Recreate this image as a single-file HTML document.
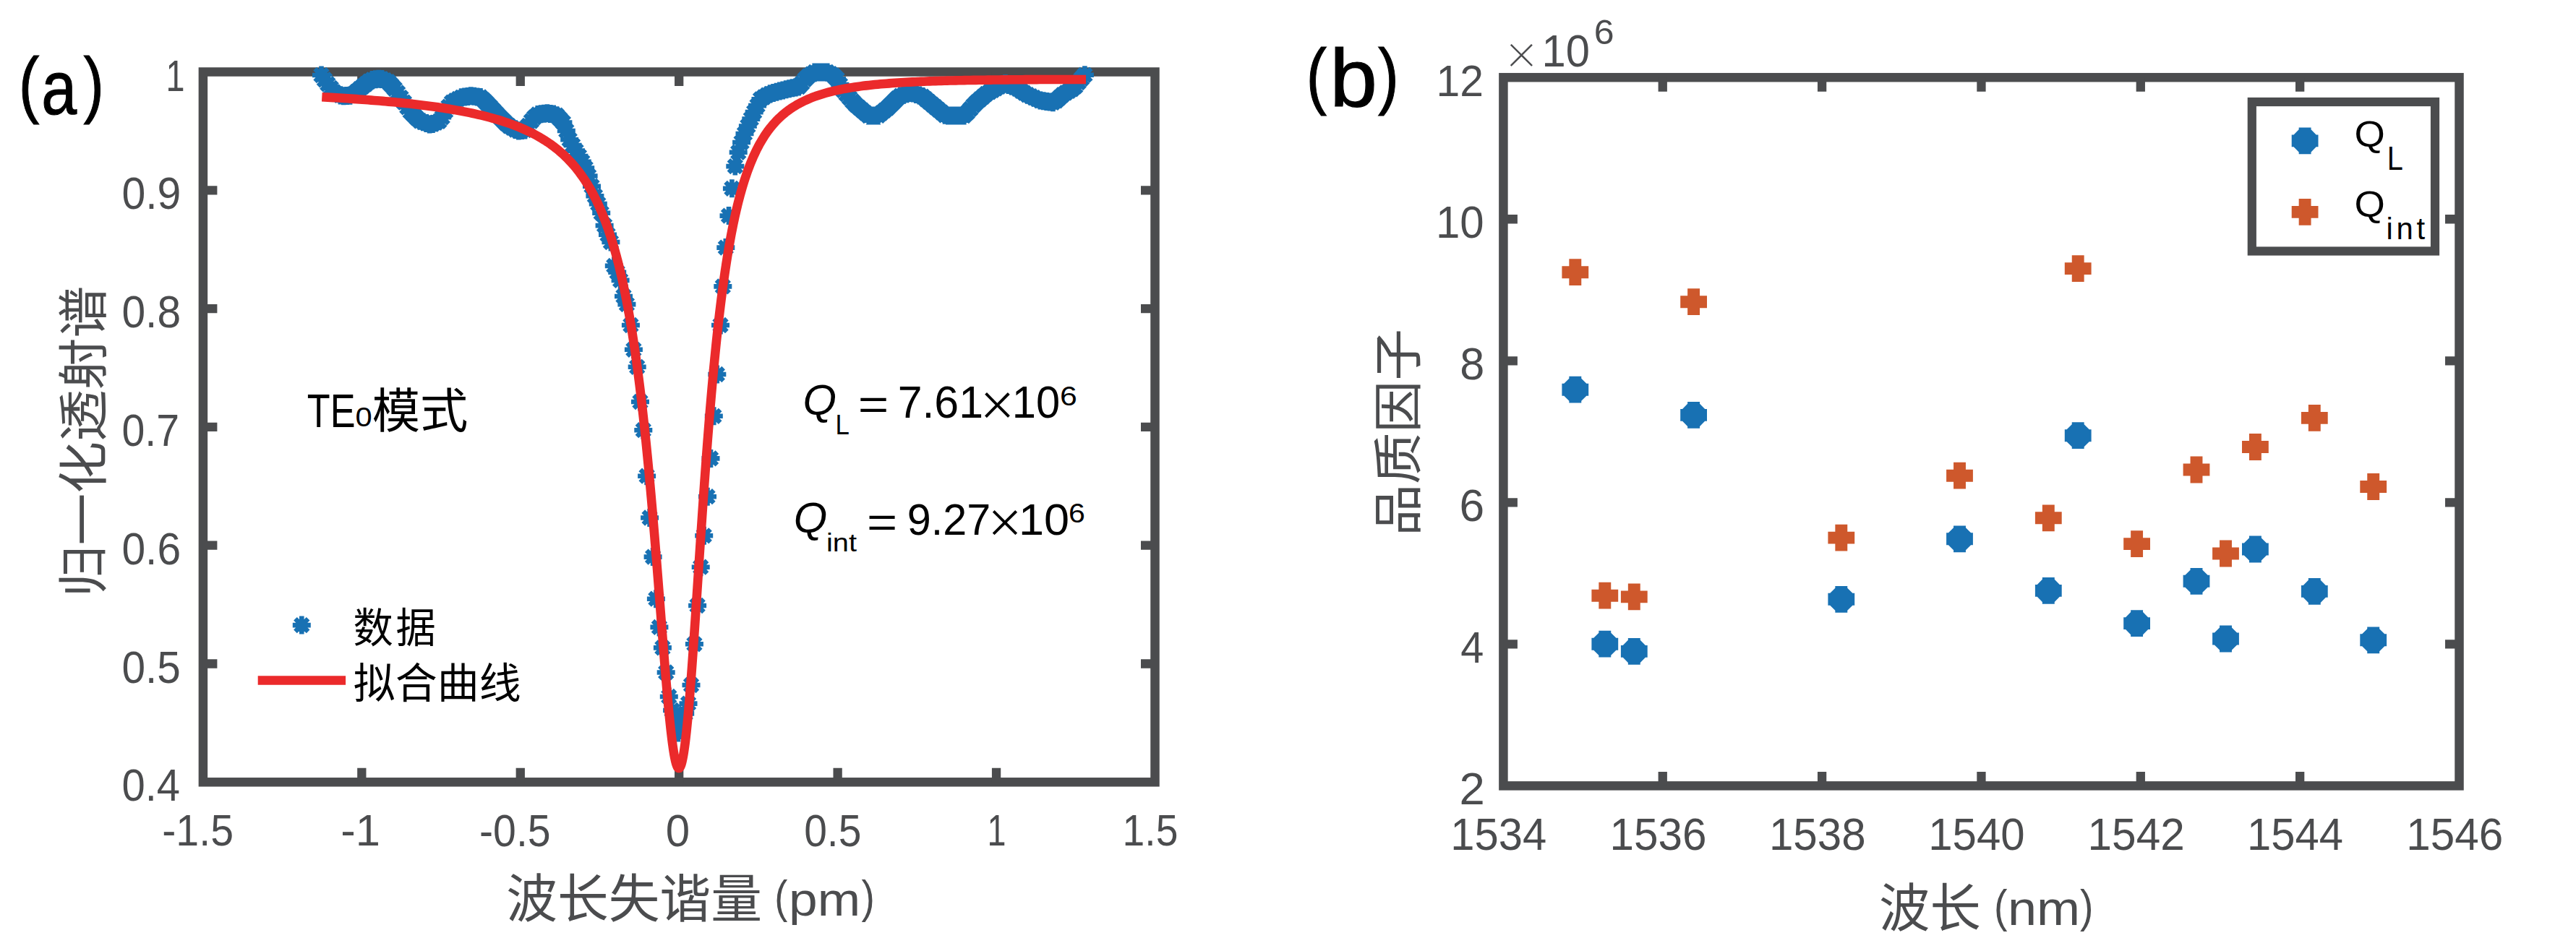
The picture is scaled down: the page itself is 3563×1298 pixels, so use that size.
<!DOCTYPE html>
<html lang="zh"><head><meta charset="utf-8"><title>figure</title>
<style>html,body{margin:0;padding:0;background:#fff}svg{display:block;font-family:'Liberation Sans', 'Noto Sans CJK SC', sans-serif}</style></head>
<body><svg width="3563" height="1298" viewBox="0 0 3563 1298">
<rect width="3563" height="1298" fill="#fff"/>
<g stroke="#4b4c4e" stroke-width="12.5" fill="none">
<rect x="280.9" y="99.5" width="1316.6" height="982.8"/>
<path d="M500.33 1082.3v-19.5M500.33 99.5v19.5M719.77 1082.3v-19.5M719.77 99.5v19.5M939.2 1082.3v-19.5M939.2 99.5v19.5M1158.63 1082.3v-19.5M1158.63 99.5v19.5M1378.07 1082.3v-19.5M1378.07 99.5v19.5M280.9 263.3h19.5M1597.5 263.3h-19.5M280.9 427.1h19.5M1597.5 427.1h-19.5M280.9 590.9h19.5M1597.5 590.9h-19.5M280.9 754.7h19.5M1597.5 754.7h-19.5M280.9 918.5h19.5M1597.5 918.5h-19.5" stroke-width="12.3"/>
</g>
<path d="M432 104h25m-12.5-12.5v25m8.84-3.66l-17.68-17.68m0 17.68l17.68-17.68M436.4 110.22h25m-12.5-12.5v25m8.84-3.66l-17.68-17.68m0 17.68l17.68-17.68M440.8 116.24h25m-12.5-12.5v25m8.84-3.66l-17.68-17.68m0 17.68l17.68-17.68M445.2 121.81h25m-12.5-12.5v25m8.84-3.66l-17.68-17.68m0 17.68l17.68-17.68M449.6 127.37h25m-12.5-12.5v25m8.84-3.66l-17.68-17.68m0 17.68l17.68-17.68M454 129.82h25m-12.5-12.5v25m8.84-3.66l-17.68-17.68m0 17.68l17.68-17.68M458.4 131.88h25m-12.5-12.5v25m8.84-3.66l-17.68-17.68m0 17.68l17.68-17.68M462.8 132.85h25m-12.5-12.5v25m8.84-3.66l-17.68-17.68m0 17.68l17.68-17.68M467.2 132.52h25m-12.5-12.5v25m8.84-3.66l-17.68-17.68m0 17.68l17.68-17.68M471.6 132.19h25m-12.5-12.5v25m8.84-3.66l-17.68-17.68m0 17.68l17.68-17.68M476 130.44h25m-12.5-12.5v25m8.84-3.66l-17.68-17.68m0 17.68l17.68-17.68M480.4 126.83h25m-12.5-12.5v25m8.84-3.66l-17.68-17.68m0 17.68l17.68-17.68M484.8 123.22h25m-12.5-12.5v25m8.84-3.66l-17.68-17.68m0 17.68l17.68-17.68M489.2 119.67h25m-12.5-12.5v25m8.84-3.66l-17.68-17.68m0 17.68l17.68-17.68M493.6 116.23h25m-12.5-12.5v25m8.84-3.66l-17.68-17.68m0 17.68l17.68-17.68M498 112.79h25m-12.5-12.5v25m8.84-3.66l-17.68-17.68m0 17.68l17.68-17.68M502.4 110.38h25m-12.5-12.5v25m8.84-3.66l-17.68-17.68m0 17.68l17.68-17.68M506.8 109.79h25m-12.5-12.5v25m8.84-3.66l-17.68-17.68m0 17.68l17.68-17.68M511.2 109.19h25m-12.5-12.5v25m8.84-3.66l-17.68-17.68m0 17.68l17.68-17.68M515.6 109.43h25m-12.5-12.5v25m8.84-3.66l-17.68-17.68m0 17.68l17.68-17.68M520 111.28h25m-12.5-12.5v25m8.84-3.66l-17.68-17.68m0 17.68l17.68-17.68M524.4 113.13h25m-12.5-12.5v25m8.84-3.66l-17.68-17.68m0 17.68l17.68-17.68M528.8 117.79h25m-12.5-12.5v25m8.84-3.66l-17.68-17.68m0 17.68l17.68-17.68M533.2 122.72h25m-12.5-12.5v25m8.84-3.66l-17.68-17.68m0 17.68l17.68-17.68M537.6 128.45h25m-12.5-12.5v25m8.84-3.66l-17.68-17.68m0 17.68l17.68-17.68M542 135.05h25m-12.5-12.5v25m8.84-3.66l-17.68-17.68m0 17.68l17.68-17.68M546.4 141.68h25m-12.5-12.5v25m8.84-3.66l-17.68-17.68m0 17.68l17.68-17.68M550.8 148.32h25m-12.5-12.5v25m8.84-3.66l-17.68-17.68m0 17.68l17.68-17.68M555.2 154.42h25m-12.5-12.5v25m8.84-3.66l-17.68-17.68m0 17.68l17.68-17.68M559.6 158.92h25m-12.5-12.5v25m8.84-3.66l-17.68-17.68m0 17.68l17.68-17.68M564 163.42h25m-12.5-12.5v25m8.84-3.66l-17.68-17.68m0 17.68l17.68-17.68M568.4 167.31h25m-12.5-12.5v25m8.84-3.66l-17.68-17.68m0 17.68l17.68-17.68M572.8 168.85h25m-12.5-12.5v25m8.84-3.66l-17.68-17.68m0 17.68l17.68-17.68M577.2 170.39h25m-12.5-12.5v25m8.84-3.66l-17.68-17.68m0 17.68l17.68-17.68M581.6 171.93h25m-12.5-12.5v25m8.84-3.66l-17.68-17.68m0 17.68l17.68-17.68M586 171.54h25m-12.5-12.5v25m8.84-3.66l-17.68-17.68m0 17.68l17.68-17.68M590.4 169.67h25m-12.5-12.5v25m8.84-3.66l-17.68-17.68m0 17.68l17.68-17.68M594.8 167.81h25m-12.5-12.5v25m8.84-3.66l-17.68-17.68m0 17.68l17.68-17.68M599.2 162.31h25m-12.5-12.5v25m8.84-3.66l-17.68-17.68m0 17.68l17.68-17.68M603.6 154.06h25m-12.5-12.5v25m8.84-3.66l-17.68-17.68m0 17.68l17.68-17.68M608 147.59h25m-12.5-12.5v25m8.84-3.66l-17.68-17.68m0 17.68l17.68-17.68M612.4 141.7h25m-12.5-12.5v25m8.84-3.66l-17.68-17.68m0 17.68l17.68-17.68M616.8 139.23h25m-12.5-12.5v25m8.84-3.66l-17.68-17.68m0 17.68l17.68-17.68M621.2 137.02h25m-12.5-12.5v25m8.84-3.66l-17.68-17.68m0 17.68l17.68-17.68M625.6 134.8h25m-12.5-12.5v25m8.84-3.66l-17.68-17.68m0 17.68l17.68-17.68M630 134.06h25m-12.5-12.5v25m8.84-3.66l-17.68-17.68m0 17.68l17.68-17.68M634.4 133.46h25m-12.5-12.5v25m8.84-3.66l-17.68-17.68m0 17.68l17.68-17.68M638.8 132.87h25m-12.5-12.5v25m8.84-3.66l-17.68-17.68m0 17.68l17.68-17.68M643.2 133.32h25m-12.5-12.5v25m8.84-3.66l-17.68-17.68m0 17.68l17.68-17.68M647.6 133.91h25m-12.5-12.5v25m8.84-3.66l-17.68-17.68m0 17.68l17.68-17.68M652 134.51h25m-12.5-12.5v25m8.84-3.66l-17.68-17.68m0 17.68l17.68-17.68M656.4 138.33h25m-12.5-12.5v25m8.84-3.66l-17.68-17.68m0 17.68l17.68-17.68M660.8 142.78h25m-12.5-12.5v25m8.84-3.66l-17.68-17.68m0 17.68l17.68-17.68M665.2 147.38h25m-12.5-12.5v25m8.84-3.66l-17.68-17.68m0 17.68l17.68-17.68M669.6 152.21h25m-12.5-12.5v25m8.84-3.66l-17.68-17.68m0 17.68l17.68-17.68M674 157.04h25m-12.5-12.5v25m8.84-3.66l-17.68-17.68m0 17.68l17.68-17.68M678.4 161.7h25m-12.5-12.5v25m8.84-3.66l-17.68-17.68m0 17.68l17.68-17.68M682.8 166.1h25m-12.5-12.5v25m8.84-3.66l-17.68-17.68m0 17.68l17.68-17.68M687.2 170.5h25m-12.5-12.5v25m8.84-3.66l-17.68-17.68m0 17.68l17.68-17.68M691.6 174.26h25m-12.5-12.5v25m8.84-3.66l-17.68-17.68m0 17.68l17.68-17.68M696 176.91h25m-12.5-12.5v25m8.84-3.66l-17.68-17.68m0 17.68l17.68-17.68M700.4 179.56h25m-12.5-12.5v25m8.84-3.66l-17.68-17.68m0 17.68l17.68-17.68M704.8 181.12h25m-12.5-12.5v25m8.84-3.66l-17.68-17.68m0 17.68l17.68-17.68M709.2 180.58h25m-12.5-12.5v25m8.84-3.66l-17.68-17.68m0 17.68l17.68-17.68M713.6 180.05h25m-12.5-12.5v25m8.84-3.66l-17.68-17.68m0 17.68l17.68-17.68M718 174h25m-12.5-12.5v25m8.84-3.66l-17.68-17.68m0 17.68l17.68-17.68M722.4 167.53h25m-12.5-12.5v25m8.84-3.66l-17.68-17.68m0 17.68l17.68-17.68M726.8 162.36h25m-12.5-12.5v25m8.84-3.66l-17.68-17.68m0 17.68l17.68-17.68M731.2 158.43h25m-12.5-12.5v25m8.84-3.66l-17.68-17.68m0 17.68l17.68-17.68M735.6 157.8h25m-12.5-12.5v25m8.84-3.66l-17.68-17.68m0 17.68l17.68-17.68M740 157.17h25m-12.5-12.5v25m8.84-3.66l-17.68-17.68m0 17.68l17.68-17.68M744.4 156.86h25m-12.5-12.5v25m8.84-3.66l-17.68-17.68m0 17.68l17.68-17.68M748.8 157.49h25m-12.5-12.5v25m8.84-3.66l-17.68-17.68m0 17.68l17.68-17.68M753.2 158.11h25m-12.5-12.5v25m8.84-3.66l-17.68-17.68m0 17.68l17.68-17.68M757.6 159.72h25m-12.5-12.5v25m8.84-3.66l-17.68-17.68m0 17.68l17.68-17.68M762 164.66h25m-12.5-12.5v25m8.84-3.66l-17.68-17.68m0 17.68l17.68-17.68M766.4 169.59h25m-12.5-12.5v25m8.84-3.66l-17.68-17.68m0 17.68l17.68-17.68M770.8 181h25m-12.5-12.5v25m8.84-3.66l-17.68-17.68m0 17.68l17.68-17.68M775.2 193.24h25m-12.5-12.5v25m8.84-3.66l-17.68-17.68m0 17.68l17.68-17.68M779.6 201.04h25m-12.5-12.5v25m8.84-3.66l-17.68-17.68m0 17.68l17.68-17.68M784 208.67h25m-12.5-12.5v25m8.84-3.66l-17.68-17.68m0 17.68l17.68-17.68M788.4 216.08h25m-12.5-12.5v25m8.84-3.66l-17.68-17.68m0 17.68l17.68-17.68M792.8 223.88h25m-12.5-12.5v25m8.84-3.66l-17.68-17.68m0 17.68l17.68-17.68M797.2 232.63h25m-12.5-12.5v25m8.84-3.66l-17.68-17.68m0 17.68l17.68-17.68M801.6 243.45h25m-12.5-12.5v25m8.84-3.66l-17.68-17.68m0 17.68l17.68-17.68M806 257.71h25m-12.5-12.5v25m8.84-3.66l-17.68-17.68m0 17.68l17.68-17.68M810.4 271.28h25m-12.5-12.5v25m8.84-3.66l-17.68-17.68m0 17.68l17.68-17.68M814.8 282.11h25m-12.5-12.5v25m8.84-3.66l-17.68-17.68m0 17.68l17.68-17.68M819.2 294.82h25m-12.5-12.5v25m8.84-3.66l-17.68-17.68m0 17.68l17.68-17.68M823.6 312.08h25m-12.5-12.5v25m8.84-3.66l-17.68-17.68m0 17.68l17.68-17.68M828 324.78h25m-12.5-12.5v25m8.84-3.66l-17.68-17.68m0 17.68l17.68-17.68M832.4 335.06h25m-12.5-12.5v25m8.84-3.66l-17.68-17.68m0 17.68l17.68-17.68M836.8 367.9h25m-12.5-12.5v25m8.84-3.66l-17.68-17.68m0 17.68l17.68-17.68M841.2 376.7h25m-12.5-12.5v25m8.84-3.66l-17.68-17.68m0 17.68l17.68-17.68M845.6 387.92h25m-12.5-12.5v25m8.84-3.66l-17.68-17.68m0 17.68l17.68-17.68M850 410h25m-12.5-12.5v25m8.84-3.66l-17.68-17.68m0 17.68l17.68-17.68M854.4 421.09h25m-12.5-12.5v25m8.84-3.66l-17.68-17.68m0 17.68l17.68-17.68M859.9 450h25m-12.5-12.5v25m8.84-3.66l-17.68-17.68m0 17.68l17.68-17.68M863.9 483.8h25m-12.5-12.5v25m8.84-3.66l-17.68-17.68m0 17.68l17.68-17.68M868.7 507.8h25m-12.5-12.5v25m8.84-3.66l-17.68-17.68m0 17.68l17.68-17.68M873 556h25m-12.5-12.5v25m8.84-3.66l-17.68-17.68m0 17.68l17.68-17.68M877.3 595.2h25m-12.5-12.5v25m8.84-3.66l-17.68-17.68m0 17.68l17.68-17.68M882.1 658.7h25m-12.5-12.5v25m8.84-3.66l-17.68-17.68m0 17.68l17.68-17.68M886.1 716.5h25m-12.5-12.5v25m8.84-3.66l-17.68-17.68m0 17.68l17.68-17.68M890.6 770.6h25m-12.5-12.5v25m8.84-3.66l-17.68-17.68m0 17.68l17.68-17.68M894.9 828.7h25m-12.5-12.5v25m8.84-3.66l-17.68-17.68m0 17.68l17.68-17.68M899.4 867.9h25m-12.5-12.5v25m8.84-3.66l-17.68-17.68m0 17.68l17.68-17.68M903.9 896.4h25m-12.5-12.5v25m8.84-3.66l-17.68-17.68m0 17.68l17.68-17.68M908.7 930.5h25m-12.5-12.5v25m8.84-3.66l-17.68-17.68m0 17.68l17.68-17.68M912.8 964h25m-12.5-12.5v25m8.84-3.66l-17.68-17.68m0 17.68l17.68-17.68M917.1 983h25m-12.5-12.5v25m8.84-3.66l-17.68-17.68m0 17.68l17.68-17.68M921.5 994h25m-12.5-12.5v25m8.84-3.66l-17.68-17.68m0 17.68l17.68-17.68M925.5 1014h25m-12.5-12.5v25m8.84-3.66l-17.68-17.68m0 17.68l17.68-17.68M930 1003h25m-12.5-12.5v25m8.84-3.66l-17.68-17.68m0 17.68l17.68-17.68M935.2 987.4h25m-12.5-12.5v25m8.84-3.66l-17.68-17.68m0 17.68l17.68-17.68M939.5 973.6h25m-12.5-12.5v25m8.84-3.66l-17.68-17.68m0 17.68l17.68-17.68M943.5 948h25m-12.5-12.5v25m8.84-3.66l-17.68-17.68m0 17.68l17.68-17.68M947.9 891.3h25m-12.5-12.5v25m8.84-3.66l-17.68-17.68m0 17.68l17.68-17.68M952.1 838h25m-12.5-12.5v25m8.84-3.66l-17.68-17.68m0 17.68l17.68-17.68M956.7 784.7h25m-12.5-12.5v25m8.84-3.66l-17.68-17.68m0 17.68l17.68-17.68M961.2 741.3h25m-12.5-12.5v25m8.84-3.66l-17.68-17.68m0 17.68l17.68-17.68M966 687.2h25m-12.5-12.5v25m8.84-3.66l-17.68-17.68m0 17.68l17.68-17.68M970.5 634.4h25m-12.5-12.5v25m8.84-3.66l-17.68-17.68m0 17.68l17.68-17.68M974.8 575.8h25m-12.5-12.5v25m8.84-3.66l-17.68-17.68m0 17.68l17.68-17.68M979.3 518h25m-12.5-12.5v25m8.84-3.66l-17.68-17.68m0 17.68l17.68-17.68M984 450h25m-12.5-12.5v25m8.84-3.66l-17.68-17.68m0 17.68l17.68-17.68M987.3 396.4h25m-12.5-12.5v25m8.84-3.66l-17.68-17.68m0 17.68l17.68-17.68M991.3 342.6h25m-12.5-12.5v25m8.84-3.66l-17.68-17.68m0 17.68l17.68-17.68M995.5 298.6h25m-12.5-12.5v25m8.84-3.66l-17.68-17.68m0 17.68l17.68-17.68M999.9 260.86h25m-12.5-12.5v25m8.84-3.66l-17.68-17.68m0 17.68l17.68-17.68M1004.3 230.1h25m-12.5-12.5v25m8.84-3.66l-17.68-17.68m0 17.68l17.68-17.68M1008.69 210.79h25m-12.5-12.5v25m8.84-3.66l-17.68-17.68m0 17.68l17.68-17.68M1013.09 196.96h25m-12.5-12.5v25m8.84-3.66l-17.68-17.68m0 17.68l17.68-17.68M1017.49 184.96h25m-12.5-12.5v25m8.84-3.66l-17.68-17.68m0 17.68l17.68-17.68M1021.88 174.46h25m-12.5-12.5v25m8.84-3.66l-17.68-17.68m0 17.68l17.68-17.68M1026.28 164.59h25m-12.5-12.5v25m8.84-3.66l-17.68-17.68m0 17.68l17.68-17.68M1030.67 155.08h25m-12.5-12.5v25m8.84-3.66l-17.68-17.68m0 17.68l17.68-17.68M1035.07 146.16h25m-12.5-12.5v25m8.84-3.66l-17.68-17.68m0 17.68l17.68-17.68M1039.47 137.36h25m-12.5-12.5v25m8.84-3.66l-17.68-17.68m0 17.68l17.68-17.68M1043.86 134.54h25m-12.5-12.5v25m8.84-3.66l-17.68-17.68m0 17.68l17.68-17.68M1048.26 131.76h25m-12.5-12.5v25m8.84-3.66l-17.68-17.68m0 17.68l17.68-17.68M1052.66 129.84h25m-12.5-12.5v25m8.84-3.66l-17.68-17.68m0 17.68l17.68-17.68M1057.05 128.52h25m-12.5-12.5v25m8.84-3.66l-17.68-17.68m0 17.68l17.68-17.68M1061.45 127.21h25m-12.5-12.5v25m8.84-3.66l-17.68-17.68m0 17.68l17.68-17.68M1065.85 126.01h25m-12.5-12.5v25m8.84-3.66l-17.68-17.68m0 17.68l17.68-17.68M1070.24 124.91h25m-12.5-12.5v25m8.84-3.66l-17.68-17.68m0 17.68l17.68-17.68M1074.64 123.82h25m-12.5-12.5v25m8.84-3.66l-17.68-17.68m0 17.68l17.68-17.68M1079.04 122.72h25m-12.5-12.5v25m8.84-3.66l-17.68-17.68m0 17.68l17.68-17.68M1083.43 121.83h25m-12.5-12.5v25m8.84-3.66l-17.68-17.68m0 17.68l17.68-17.68M1087.83 120.97h25m-12.5-12.5v25m8.84-3.66l-17.68-17.68m0 17.68l17.68-17.68M1092.22 120.11h25m-12.5-12.5v25m8.84-3.66l-17.68-17.68m0 17.68l17.68-17.68M1096.62 115.22h25m-12.5-12.5v25m8.84-3.66l-17.68-17.68m0 17.68l17.68-17.68M1101.02 109.71h25m-12.5-12.5v25m8.84-3.66l-17.68-17.68m0 17.68l17.68-17.68M1105.41 105.41h25m-12.5-12.5v25m8.84-3.66l-17.68-17.68m0 17.68l17.68-17.68M1109.81 102.67h25m-12.5-12.5v25m8.84-3.66l-17.68-17.68m0 17.68l17.68-17.68M1114.21 100h25m-12.5-12.5v25m8.84-3.66l-17.68-17.68m0 17.68l17.68-17.68M1118.6 100h25m-12.5-12.5v25m8.84-3.66l-17.68-17.68m0 17.68l17.68-17.68M1123 100h25m-12.5-12.5v25m8.84-3.66l-17.68-17.68m0 17.68l17.68-17.68M1127.4 100h25m-12.5-12.5v25m8.84-3.66l-17.68-17.68m0 17.68l17.68-17.68M1131.79 100h25m-12.5-12.5v25m8.84-3.66l-17.68-17.68m0 17.68l17.68-17.68M1136.19 102.13h25m-12.5-12.5v25m8.84-3.66l-17.68-17.68m0 17.68l17.68-17.68M1140.58 104.82h25m-12.5-12.5v25m8.84-3.66l-17.68-17.68m0 17.68l17.68-17.68M1144.98 109.24h25m-12.5-12.5v25m8.84-3.66l-17.68-17.68m0 17.68l17.68-17.68M1149.38 117.07h25m-12.5-12.5v25m8.84-3.66l-17.68-17.68m0 17.68l17.68-17.68M1153.77 124.9h25m-12.5-12.5v25m8.84-3.66l-17.68-17.68m0 17.68l17.68-17.68M1158.17 130.17h25m-12.5-12.5v25m8.84-3.66l-17.68-17.68m0 17.68l17.68-17.68M1162.57 135.31h25m-12.5-12.5v25m8.84-3.66l-17.68-17.68m0 17.68l17.68-17.68M1166.96 140.45h25m-12.5-12.5v25m8.84-3.66l-17.68-17.68m0 17.68l17.68-17.68M1171.36 145.16h25m-12.5-12.5v25m8.84-3.66l-17.68-17.68m0 17.68l17.68-17.68M1175.76 148.92h25m-12.5-12.5v25m8.84-3.66l-17.68-17.68m0 17.68l17.68-17.68M1180.15 152.69h25m-12.5-12.5v25m8.84-3.66l-17.68-17.68m0 17.68l17.68-17.68M1184.55 156.45h25m-12.5-12.5v25m8.84-3.66l-17.68-17.68m0 17.68l17.68-17.68M1188.95 160h25m-12.5-12.5v25m8.84-3.66l-17.68-17.68m0 17.68l17.68-17.68M1193.34 160h25m-12.5-12.5v25m8.84-3.66l-17.68-17.68m0 17.68l17.68-17.68M1197.74 160h25m-12.5-12.5v25m8.84-3.66l-17.68-17.68m0 17.68l17.68-17.68M1202.13 159.89h25m-12.5-12.5v25m8.84-3.66l-17.68-17.68m0 17.68l17.68-17.68M1206.53 156.36h25m-12.5-12.5v25m8.84-3.66l-17.68-17.68m0 17.68l17.68-17.68M1210.93 152.82h25m-12.5-12.5v25m8.84-3.66l-17.68-17.68m0 17.68l17.68-17.68M1215.32 149.28h25m-12.5-12.5v25m8.84-3.66l-17.68-17.68m0 17.68l17.68-17.68M1219.72 144.88h25m-12.5-12.5v25m8.84-3.66l-17.68-17.68m0 17.68l17.68-17.68M1224.12 140.48h25m-12.5-12.5v25m8.84-3.66l-17.68-17.68m0 17.68l17.68-17.68M1228.51 136.09h25m-12.5-12.5v25m8.84-3.66l-17.68-17.68m0 17.68l17.68-17.68M1232.91 132.77h25m-12.5-12.5v25m8.84-3.66l-17.68-17.68m0 17.68l17.68-17.68M1237.31 131.31h25m-12.5-12.5v25m8.84-3.66l-17.68-17.68m0 17.68l17.68-17.68M1241.7 129.85h25m-12.5-12.5v25m8.84-3.66l-17.68-17.68m0 17.68l17.68-17.68M1246.1 128.4h25m-12.5-12.5v25m8.84-3.66l-17.68-17.68m0 17.68l17.68-17.68M1250.49 129.06h25m-12.5-12.5v25m8.84-3.66l-17.68-17.68m0 17.68l17.68-17.68M1254.89 130.51h25m-12.5-12.5v25m8.84-3.66l-17.68-17.68m0 17.68l17.68-17.68M1259.29 131.97h25m-12.5-12.5v25m8.84-3.66l-17.68-17.68m0 17.68l17.68-17.68M1263.68 133.62h25m-12.5-12.5v25m8.84-3.66l-17.68-17.68m0 17.68l17.68-17.68M1268.08 137.27h25m-12.5-12.5v25m8.84-3.66l-17.68-17.68m0 17.68l17.68-17.68M1272.48 140.93h25m-12.5-12.5v25m8.84-3.66l-17.68-17.68m0 17.68l17.68-17.68M1276.87 144.58h25m-12.5-12.5v25m8.84-3.66l-17.68-17.68m0 17.68l17.68-17.68M1281.27 148.25h25m-12.5-12.5v25m8.84-3.66l-17.68-17.68m0 17.68l17.68-17.68M1285.67 151.93h25m-12.5-12.5v25m8.84-3.66l-17.68-17.68m0 17.68l17.68-17.68M1290.06 155.61h25m-12.5-12.5v25m8.84-3.66l-17.68-17.68m0 17.68l17.68-17.68M1294.46 159.3h25m-12.5-12.5v25m8.84-3.66l-17.68-17.68m0 17.68l17.68-17.68M1298.85 160h25m-12.5-12.5v25m8.84-3.66l-17.68-17.68m0 17.68l17.68-17.68M1303.25 160h25m-12.5-12.5v25m8.84-3.66l-17.68-17.68m0 17.68l17.68-17.68M1307.65 160h25m-12.5-12.5v25m8.84-3.66l-17.68-17.68m0 17.68l17.68-17.68M1312.04 160h25m-12.5-12.5v25m8.84-3.66l-17.68-17.68m0 17.68l17.68-17.68M1316.44 160h25m-12.5-12.5v25m8.84-3.66l-17.68-17.68m0 17.68l17.68-17.68M1320.84 160h25m-12.5-12.5v25m8.84-3.66l-17.68-17.68m0 17.68l17.68-17.68M1325.23 155.94h25m-12.5-12.5v25m8.84-3.66l-17.68-17.68m0 17.68l17.68-17.68M1329.63 150.89h25m-12.5-12.5v25m8.84-3.66l-17.68-17.68m0 17.68l17.68-17.68M1334.03 145.84h25m-12.5-12.5v25m8.84-3.66l-17.68-17.68m0 17.68l17.68-17.68M1338.42 141.33h25m-12.5-12.5v25m8.84-3.66l-17.68-17.68m0 17.68l17.68-17.68M1342.82 137.52h25m-12.5-12.5v25m8.84-3.66l-17.68-17.68m0 17.68l17.68-17.68M1347.22 133.71h25m-12.5-12.5v25m8.84-3.66l-17.68-17.68m0 17.68l17.68-17.68M1351.61 129.94h25m-12.5-12.5v25m8.84-3.66l-17.68-17.68m0 17.68l17.68-17.68M1356.01 127.42h25m-12.5-12.5v25m8.84-3.66l-17.68-17.68m0 17.68l17.68-17.68M1360.4 124.9h25m-12.5-12.5v25m8.84-3.66l-17.68-17.68m0 17.68l17.68-17.68M1364.8 122.38h25m-12.5-12.5v25m8.84-3.66l-17.68-17.68m0 17.68l17.68-17.68M1369.2 119.87h25m-12.5-12.5v25m8.84-3.66l-17.68-17.68m0 17.68l17.68-17.68M1373.59 117.35h25m-12.5-12.5v25m8.84-3.66l-17.68-17.68m0 17.68l17.68-17.68M1377.99 115.77h25m-12.5-12.5v25m8.84-3.66l-17.68-17.68m0 17.68l17.68-17.68M1382.39 117.42h25m-12.5-12.5v25m8.84-3.66l-17.68-17.68m0 17.68l17.68-17.68M1386.78 119.06h25m-12.5-12.5v25m8.84-3.66l-17.68-17.68m0 17.68l17.68-17.68M1391.18 120.71h25m-12.5-12.5v25m8.84-3.66l-17.68-17.68m0 17.68l17.68-17.68M1395.58 122.79h25m-12.5-12.5v25m8.84-3.66l-17.68-17.68m0 17.68l17.68-17.68M1399.97 125.75h25m-12.5-12.5v25m8.84-3.66l-17.68-17.68m0 17.68l17.68-17.68M1404.37 128.7h25m-12.5-12.5v25m8.84-3.66l-17.68-17.68m0 17.68l17.68-17.68M1408.76 131.24h25m-12.5-12.5v25m8.84-3.66l-17.68-17.68m0 17.68l17.68-17.68M1413.16 133.2h25m-12.5-12.5v25m8.84-3.66l-17.68-17.68m0 17.68l17.68-17.68M1417.56 135.17h25m-12.5-12.5v25m8.84-3.66l-17.68-17.68m0 17.68l17.68-17.68M1421.95 137.14h25m-12.5-12.5v25m8.84-3.66l-17.68-17.68m0 17.68l17.68-17.68M1426.35 139.04h25m-12.5-12.5v25m8.84-3.66l-17.68-17.68m0 17.68l17.68-17.68M1430.75 139.73h25m-12.5-12.5v25m8.84-3.66l-17.68-17.68m0 17.68l17.68-17.68M1435.14 140.41h25m-12.5-12.5v25m8.84-3.66l-17.68-17.68m0 17.68l17.68-17.68M1439.54 141.1h25m-12.5-12.5v25m8.84-3.66l-17.68-17.68m0 17.68l17.68-17.68M1443.94 141.79h25m-12.5-12.5v25m8.84-3.66l-17.68-17.68m0 17.68l17.68-17.68M1448.33 139.25h25m-12.5-12.5v25m8.84-3.66l-17.68-17.68m0 17.68l17.68-17.68M1452.73 135.27h25m-12.5-12.5v25m8.84-3.66l-17.68-17.68m0 17.68l17.68-17.68M1457.13 131.28h25m-12.5-12.5v25m8.84-3.66l-17.68-17.68m0 17.68l17.68-17.68M1461.52 128.43h25m-12.5-12.5v25m8.84-3.66l-17.68-17.68m0 17.68l17.68-17.68M1465.92 125.89h25m-12.5-12.5v25m8.84-3.66l-17.68-17.68m0 17.68l17.68-17.68M1470.31 123.35h25m-12.5-12.5v25m8.84-3.66l-17.68-17.68m0 17.68l17.68-17.68M1474.71 119.63h25m-12.5-12.5v25m8.84-3.66l-17.68-17.68m0 17.68l17.68-17.68M1479.11 114.04h25m-12.5-12.5v25m8.84-3.66l-17.68-17.68m0 17.68l17.68-17.68M1483.5 108.71h25m-12.5-12.5v25m8.84-3.66l-17.68-17.68m0 17.68l17.68-17.68M1487.9 103.7h25m-12.5-12.5v25m8.84-3.66l-17.68-17.68m0 17.68l17.68-17.68M404.8 865.1h25m-12.5-12.5v25m8.84-3.66l-17.68-17.68m0 17.68l17.68-17.68" stroke="#1871b3" stroke-width="6.6" fill="none"/>
<path d="M445.3 134.2L449.3 134.42L453.3 134.64L457.3 134.87L461.3 135.1L465.3 135.33L469.3 135.57L473.3 135.82L477.3 136.07L481.3 136.33L485.3 136.59L489.3 136.86L493.3 137.13L497.3 137.41L501.3 137.7L505.3 137.99L509.3 138.29L513.3 138.6L517.3 138.91L521.3 139.23L525.3 139.56L529.3 139.9L533.3 140.25L537.3 140.6L541.3 140.97L545.3 141.34L549.3 141.72L553.3 142.12L557.3 142.52L561.3 142.93L565.3 143.36L569.3 143.8L573.3 144.25L577.3 144.71L581.3 145.18L585.3 145.67L589.3 146.17L593.3 146.69L597.3 147.23L601.3 147.78L605.3 148.34L609.3 148.93L613.3 149.53L617.3 150.15L621.3 150.79L625.3 151.45L629.3 152.13L633.3 152.84L637.3 153.57L641.3 154.33L645.3 155.11L649.3 155.92L653.3 156.76L657.3 157.63L661.3 158.53L665.3 159.46L669.3 160.43L673.3 161.44L677.3 162.49L681.3 163.58L685.3 164.71L689.3 165.89L693.3 167.12L697.3 168.4L701.3 169.73L705.3 171.13L709.3 172.58L713.3 174.1L717.3 175.7L721.3 177.36L725.3 179.11L729.3 180.94L733.3 182.86L737.3 184.88L741.3 187L745.3 189.23L749.3 191.58L753.3 194.06L757.3 196.67L761.3 199.44L765.3 202.36L769.3 205.45L773.3 208.73L777.3 212.22L781.3 215.92L785.3 219.85L789.3 224.05L793.3 228.53L797.3 233.31L801.3 238.43L805.3 243.92L809.3 249.81L813.3 256.14L817.3 262.96L821.3 270.32L825.3 278.27L829.3 286.87L833.3 296.21L837.3 306.35L841.3 317.4L845.3 329.44L849.3 342.6L850 345.03L850.5 346.79L851 348.57L851.5 350.37L852 352.18L852.5 354.02L853 355.89L853.5 357.77L854 359.67L854.5 361.6L855 363.55L855.5 365.52L856 367.52L856.5 369.53L857 371.58L857.5 373.64L858 375.73L858.5 377.85L859 379.99L859.5 382.15L860 384.35L860.5 386.56L861 388.81L861.5 391.08L862 393.38L862.5 395.7L863 398.06L863.5 400.44L864 402.85L864.5 405.29L865 407.76L865.5 410.26L866 412.79L866.5 415.35L867 417.94L867.5 420.57L868 423.22L868.5 425.91L869 428.63L869.5 431.39L870 434.18L870.5 437L871 439.86L871.5 442.75L872 445.68L872.5 448.64L873 451.64L873.5 454.68L874 457.75L874.5 460.86L875 464.01L875.5 467.2L876 470.43L876.5 473.7L877 477.01L877.5 480.36L878 483.75L878.5 487.18L879 490.66L879.5 494.17L880 497.73L880.5 501.33L881 504.98L881.5 508.67L882 512.41L882.5 516.19L883 520.02L883.5 523.89L884 527.81L884.5 531.78L885 535.8L885.5 539.86L886 543.97L886.5 548.13L887 552.34L887.5 556.6L888 560.91L888.5 565.26L889 569.67L889.5 574.13L890 578.64L890.5 583.2L891 587.82L891.5 592.48L892 597.2L892.5 601.97L893 606.79L893.5 611.66L894 616.59L894.5 621.57L895 626.6L895.5 631.68L896 636.81L896.5 642L897 647.24L897.5 652.53L898 657.88L898.5 663.27L899 668.71L899.5 674.21L900 679.76L900.5 685.35L901 690.99L901.5 696.69L902 702.42L902.5 708.21L903 714.04L903.5 719.92L904 725.84L904.5 731.8L905 737.8L905.5 743.84L906 749.92L906.5 756.04L907 762.19L907.5 768.38L908 774.6L908.5 780.84L909 787.12L909.5 793.42L910 799.74L910.5 806.08L911 812.44L911.5 818.82L912 825.2L912.5 831.6L913 838L913.5 844.41L914 850.81L914.5 857.21L915 863.6L915.5 869.99L916 876.35L916.5 882.69L917 889.02L917.5 895.31L918 901.57L918.5 907.79L919 913.97L919.5 920.1L920 926.17L920.5 932.2L921 938.15L921.5 944.04L922 949.86L922.5 955.59L923 961.24L923.5 966.8L924 972.27L924.5 977.62L925 982.88L925.5 988.01L926 993.03L926.5 997.92L927 1002.67L927.5 1007.29L928 1011.77L928.5 1016.09L929 1020.26L929.5 1024.26L930 1028.1L930.5 1031.76L931 1035.25L931.5 1038.55L932 1041.66L932.5 1044.58L933 1047.31L933.5 1049.82L934 1052.13L934.5 1054.23L935 1056.12L935.5 1057.79L936 1059.23L936.5 1060.45L937 1061.45L937.5 1062.21L938 1062.75L938.5 1063.05L939 1063.12L939.5 1062.96L940 1062.56L940.5 1061.93L941 1061.07L941.5 1059.99L942 1058.68L942.5 1057.17L943 1055.42L943.5 1053.43L944 1051.21L944.5 1048.75L945 1046.07L945.5 1043.16L946 1040.03L946.5 1036.69L947 1033.12L947.5 1029.34L948 1025.36L948.5 1021.17L949 1016.78L949.5 1012.2L950 1007.42L950.5 1002.47L951 997.33L951.5 992.03L952 986.55L952.5 980.92L953 975.13L953.5 969.19L954 963.11L954.5 956.9L955 950.56L955.5 944.09L956 937.51L956.5 930.82L957 924.03L957.5 917.14L958 910.17L958.5 903.11L959 895.97L959.5 888.77L960 881.5L960.5 874.17L961 866.79L961.5 859.37L962 851.9L962.5 844.41L963 836.88L963.5 829.33L964 821.76L964.5 814.18L965 806.6L965.5 799L966 791.42L966.5 783.83L967 776.26L967.5 768.7L968 761.16L968.5 753.64L969 746.15L969.5 738.69L970 731.26L970.5 723.86L971 716.51L971.5 709.19L972 701.92L972.5 694.69L973 687.52L973.5 680.39L974 673.32L974.5 666.3L975 659.34L975.5 652.44L976 645.6L976.5 638.82L977 632.1L977.5 625.44L978 618.85L978.5 612.33L979 605.87L979.5 599.48L980 593.16L980.5 586.9L981 580.72L981.5 574.6L982 568.56L982.5 562.58L983 556.68L983.5 550.84L984 545.08L984.5 539.38L985 533.76L985.5 528.2L986 522.72L986.5 517.31L987 511.96L987.5 506.69L988 501.48L988.5 496.34L989 491.28L989.5 486.27L990 481.34L990.5 476.47L991 471.67L991.5 466.94L992 462.27L992.5 457.66L993 453.12L993.5 448.64L994 444.23L994.5 439.88L995 435.59L995.5 431.35L996 427.18L996.5 423.07L997 419.02L997.5 415.03L998 411.09L998.5 407.21L999 403.39L999.5 399.62L1000 395.91L1000.5 392.25L1001 388.64L1001.5 385.08L1002 381.58L1002.5 378.13L1003 374.73L1003.5 371.38L1004 368.07L1004.5 364.82L1005 361.61L1005.5 358.45L1006 355.34L1006.5 352.27L1007 349.25L1007.5 346.27L1008 343.33L1008.5 340.44L1009 337.59L1009.5 334.78L1010 332.01L1010.5 329.28L1011 326.59L1011.5 323.95L1012 321.34L1012.5 318.76L1013 316.23L1013.5 313.73L1014 311.27L1014.5 308.84L1015 306.45L1015.5 304.09L1016 301.77L1016.5 299.48L1017 297.22L1017.5 295L1018 292.81L1018.5 290.65L1019 288.52L1019.5 286.42L1020 284.35L1020.5 282.31L1021 280.3L1021.5 278.31L1022 276.36L1022.5 274.43L1023 272.53L1023.5 270.66L1024 268.81L1024.5 266.99L1025 265.19L1025.5 263.42L1026 261.68L1026.5 259.96L1027 258.26L1027.5 256.58L1028 254.93L1028.5 253.31L1029 251.7L1029.5 250.12L1030 248.55L1034 236.8L1038 226.25L1042 216.76L1046 208.21L1050 200.49L1054 193.51L1058 187.18L1062 181.43L1066 176.19L1070 171.42L1074 167.07L1078 163.08L1082 159.43L1086 156.07L1090 152.99L1094 150.15L1098 147.54L1102 145.12L1106 142.88L1110 140.82L1114 138.9L1118 137.12L1122 135.47L1126 133.93L1130 132.5L1134 131.17L1138 129.92L1142 128.76L1146 127.67L1150 126.66L1154 125.7L1158 124.81L1162 123.98L1166 123.19L1170 122.45L1174 121.76L1178 121.11L1182 120.5L1186 119.92L1190 119.38L1194 118.86L1198 118.38L1202 117.92L1206 117.49L1210 117.09L1214 116.7L1218 116.34L1222 115.99L1226 115.67L1230 115.36L1234 115.07L1238 114.79L1242 114.53L1246 114.28L1250 114.05L1254 113.83L1258 113.61L1262 113.41L1266 113.22L1270 113.04L1274 112.87L1278 112.71L1282 112.56L1286 112.41L1290 112.27L1294 112.14L1298 112.01L1302 111.89L1306 111.78L1310 111.67L1314 111.57L1318 111.47L1322 111.38L1326 111.29L1330 111.21L1334 111.13L1338 111.06L1342 110.98L1346 110.92L1350 110.85L1354 110.79L1358 110.74L1362 110.68L1366 110.63L1370 110.58L1374 110.53L1378 110.49L1382 110.45L1386 110.41L1390 110.37L1394 110.34L1398 110.31L1402 110.28L1406 110.25L1410 110.22L1414 110.19L1418 110.17L1422 110.15L1426 110.13L1430 110.11L1434 110.09L1438 110.07L1442 110.06L1446 110.04L1450 110.03L1454 110.02L1458 110.01L1462 110L1466 109.99L1470 109.98L1474 109.97L1478 109.96L1482 109.96L1486 109.95L1490 109.95L1494 109.95L1498 109.94L1502 109.94" fill="none" stroke="#eb2a2b" stroke-width="12.6" stroke-linejoin="round"/>
<path d="M356.7 941.4H478.1" stroke="#eb2a2b" stroke-width="12.5"/>
<g stroke="#4b4c4e" stroke-width="12.5" fill="none">
<rect x="2079.4" y="107.2" width="1322.1" height="980.2"/>
<path d="M2299.75 1087.4v-19.5M2299.75 107.2v19.5M2520.1 1087.4v-19.5M2520.1 107.2v19.5M2740.45 1087.4v-19.5M2740.45 107.2v19.5M2960.8 1087.4v-19.5M2960.8 107.2v19.5M3181.15 1087.4v-19.5M3181.15 107.2v19.5M2079.4 303.24h19.5M3401.5 303.24h-19.5M2079.4 499.28h19.5M3401.5 499.28h-19.5M2079.4 695.32h19.5M3401.5 695.32h-19.5M2079.4 891.36h19.5M3401.5 891.36h-19.5" stroke-width="12.3"/>
</g>
<rect x="3114.8" y="141" width="253.2" height="206.5" fill="#fff" stroke="#4b4c4e" stroke-width="12.2"/>
<path d="M2170.35 358.3h16.9v9.95h9.95v16.9h-9.95v9.95h-16.9v-9.95h-9.95v-16.9h9.95zM2211.35 805.8h16.9v9.95h9.95v16.9h-9.95v9.95h-16.9v-9.95h-9.95v-16.9h9.95zM2251.85 807.5h16.9v9.95h9.95v16.9h-9.95v9.95h-16.9v-9.95h-9.95v-16.9h9.95zM2334.15 399.3h16.9v9.95h9.95v16.9h-9.95v9.95h-16.9v-9.95h-9.95v-16.9h9.95zM2538.35 725.7h16.9v9.95h9.95v16.9h-9.95v9.95h-16.9v-9.95h-9.95v-16.9h9.95zM2702.05 639.8h16.9v9.95h9.95v16.9h-9.95v9.95h-16.9v-9.95h-9.95v-16.9h9.95zM2824.85 698.4h16.9v9.95h9.95v16.9h-9.95v9.95h-16.9v-9.95h-9.95v-16.9h9.95zM2865.75 353.2h16.9v9.95h9.95v16.9h-9.95v9.95h-16.9v-9.95h-9.95v-16.9h9.95zM2947.15 734.2h16.9v9.95h9.95v16.9h-9.95v9.95h-16.9v-9.95h-9.95v-16.9h9.95zM3029.55 631.6h16.9v9.95h9.95v16.9h-9.95v9.95h-16.9v-9.95h-9.95v-16.9h9.95zM3070.05 747.6h16.9v9.95h9.95v16.9h-9.95v9.95h-16.9v-9.95h-9.95v-16.9h9.95zM3110.95 600.1h16.9v9.95h9.95v16.9h-9.95v9.95h-16.9v-9.95h-9.95v-16.9h9.95zM3192.85 560h16.9v9.95h9.95v16.9h-9.95v9.95h-16.9v-9.95h-9.95v-16.9h9.95zM3274.25 655.1h16.9v9.95h9.95v16.9h-9.95v9.95h-16.9v-9.95h-9.95v-16.9h9.95zM3179.65 275h16.9v9.95h9.95v16.9h-9.95v9.95h-16.9v-9.95h-9.95v-16.9h9.95z" fill="#ce582c"/>
<path d="M2170.35 520.8h16.9v2.85l7.1 7.1h2.85v16.9h-2.85l-7.1 7.1v2.85h-16.9v-2.85l-7.1-7.1h-2.85v-16.9h2.85l7.1-7.1zM2211.35 872.8h16.9v2.85l7.1 7.1h2.85v16.9h-2.85l-7.1 7.1v2.85h-16.9v-2.85l-7.1-7.1h-2.85v-16.9h2.85l7.1-7.1zM2251.85 883h16.9v2.85l7.1 7.1h2.85v16.9h-2.85l-7.1 7.1v2.85h-16.9v-2.85l-7.1-7.1h-2.85v-16.9h2.85l7.1-7.1zM2334.15 556h16.9v2.85l7.1 7.1h2.85v16.9h-2.85l-7.1 7.1v2.85h-16.9v-2.85l-7.1-7.1h-2.85v-16.9h2.85l7.1-7.1zM2538.35 810.9h16.9v2.85l7.1 7.1h2.85v16.9h-2.85l-7.1 7.1v2.85h-16.9v-2.85l-7.1-7.1h-2.85v-16.9h2.85l7.1-7.1zM2702.05 727.4h16.9v2.85l7.1 7.1h2.85v16.9h-2.85l-7.1 7.1v2.85h-16.9v-2.85l-7.1-7.1h-2.85v-16.9h2.85l7.1-7.1zM2824.85 799h16.9v2.85l7.1 7.1h2.85v16.9h-2.85l-7.1 7.1v2.85h-16.9v-2.85l-7.1-7.1h-2.85v-16.9h2.85l7.1-7.1zM2865.75 584.3h16.9v2.85l7.1 7.1h2.85v16.9h-2.85l-7.1 7.1v2.85h-16.9v-2.85l-7.1-7.1h-2.85v-16.9h2.85l7.1-7.1zM2947.15 844.2h16.9v2.85l7.1 7.1h2.85v16.9h-2.85l-7.1 7.1v2.85h-16.9v-2.85l-7.1-7.1h-2.85v-16.9h2.85l7.1-7.1zM3029.55 785.9h16.9v2.85l7.1 7.1h2.85v16.9h-2.85l-7.1 7.1v2.85h-16.9v-2.85l-7.1-7.1h-2.85v-16.9h2.85l7.1-7.1zM3070.05 865.6h16.9v2.85l7.1 7.1h2.85v16.9h-2.85l-7.1 7.1v2.85h-16.9v-2.85l-7.1-7.1h-2.85v-16.9h2.85l7.1-7.1zM3110.95 741.6h16.9v2.85l7.1 7.1h2.85v16.9h-2.85l-7.1 7.1v2.85h-16.9v-2.85l-7.1-7.1h-2.85v-16.9h2.85l7.1-7.1zM3192.85 800h16.9v2.85l7.1 7.1h2.85v16.9h-2.85l-7.1 7.1v2.85h-16.9v-2.85l-7.1-7.1h-2.85v-16.9h2.85l7.1-7.1zM3274.25 867.4h16.9v2.85l7.1 7.1h2.85v16.9h-2.85l-7.1 7.1v2.85h-16.9v-2.85l-7.1-7.1h-2.85v-16.9h2.85l7.1-7.1zM3179.65 176.5h16.9v2.85l7.1 7.1h2.85v16.9h-2.85l-7.1 7.1v2.85h-16.9v-2.85l-7.1-7.1h-2.85v-16.9h2.85l7.1-7.1z" fill="#1871b3"/>
<text transform="matrix(0.8203 0 0 0.9687 25.778 150.6467)" font-size="105" fill="#000000" stroke="#000" stroke-width="1.1">(</text><text transform="matrix(0.8382 0 0 1 57.1473 157.5)" font-size="105" fill="#000000" stroke="#000" stroke-width="1.1">a</text><text transform="matrix(0.8102 0 0 0.9687 115.5051 150.6467)" font-size="105" fill="#000000" stroke="#000" stroke-width="1.1">)</text>
<text transform="matrix(0.78 0 0 1.0133 229.3788 126)" font-size="60" fill="#4b4c4e">1</text>
<text transform="matrix(0.9827 0 0 1.0438 168.3888 289.3781)" font-size="60" fill="#4b4c4e">0.9</text>
<text transform="matrix(0.9796 0 0 1.0438 168.3959 453.1781)" font-size="60" fill="#4b4c4e">0.8</text>
<text transform="matrix(0.9546 0 0 1.0438 168.4521 616.9781)" font-size="60" fill="#4b4c4e">0.7</text>
<text transform="matrix(0.9796 0 0 1.0438 168.3959 780.7781)" font-size="60" fill="#4b4c4e">0.6</text>
<text transform="matrix(0.9765 0 0 1.0438 168.4029 944.5781)" font-size="60" fill="#4b4c4e">0.5</text>
<text transform="matrix(0.9673 0 0 1.0438 168.4236 1108.3781)" font-size="60" fill="#4b4c4e">0.4</text>
<text transform="matrix(0.9551 0 0 1.0323 224.2735 1170.4838)" font-size="60" fill="#4b4c4e">-1.5</text>
<text transform="matrix(1.0241 0 0 1.0206 471.1838 1170)" font-size="60" fill="#4b4c4e">-1</text>
<text transform="matrix(0.9531 0 0 1.0485 663.0791 1170.6757)" font-size="60" fill="#4b4c4e">-0.5</text>
<text transform="matrix(1.0017 0 0 1.0485 920.8461 1170.6757)" font-size="60" fill="#4b4c4e">0</text>
<text transform="matrix(0.9498 0 0 1.0485 1112.1629 1170.6757)" font-size="60" fill="#4b4c4e">0.5</text>
<text transform="matrix(0.78 0 0 1.0206 1365.3788 1170)" font-size="60" fill="#4b4c4e">1</text>
<text transform="matrix(0.9207 0 0 1.0323 1552.6234 1170.4838)" font-size="60" fill="#4b4c4e">1.5</text>
<text transform="matrix(0.9974 0 0 1.0107 700.1571 1268.7885)" font-size="71" fill="#4b4c4e">波长失谐量</text> <text transform="matrix(0.8229 0 0 0.9447 1071.2086 1263.1102)" font-size="66" fill="#4b4c4e">(</text><text transform="matrix(1.0807 0 0 0.9949 1091.0069 1267.3198)" font-size="66" fill="#4b4c4e">pm</text><text transform="matrix(0.8343 0 0 0.9447 1191.5829 1263.1102)" font-size="66" fill="#4b4c4e">)</text>
<text transform="matrix(0 -1.0109 0.9939 0 140.6851 826.271)" font-size="71" fill="#4b4c4e">归一化透射谱</text>
<text transform="matrix(0.8427 0 0 1.0447 424.836 590.7)" font-size="62" fill="#000000">TE</text><text transform="matrix(1.1588 0 0 1.0376 491.5618 590.4406)" font-size="36" fill="#000000">0</text><text transform="matrix(1.0063 0 0 1 514.6359 591.8)" font-size="66" fill="#000000">模式</text>
<text transform="matrix(0.9704 0 0 0.9934 488.4166 889.1815)" font-size="57" fill="#000000" letter-spacing="4">数据</text>
<text transform="matrix(0.9991 0 0 0.9972 488.8515 966.1127)" font-size="58" fill="#000000">拟合曲线</text>
<text transform="matrix(0.9964 0 0 0.9962 1110.6108 573.5925)" font-size="60" fill="#000000" font-style="italic">Q</text><text transform="matrix(0.9415 0 0 1.0431 1155.5754 600.8)" font-size="37" fill="#000000">L</text> <text transform="matrix(1.2138 0 0 0.9846 1186.7586 579.5462)" font-size="60" fill="#000000">=</text> <text transform="matrix(1.0135 0 0 1.0414 1241.6596 577.9793)" font-size="60" fill="#000000">7.61</text><text transform="matrix(1.2815 0 0 1.2778 1354.7315 588.5611)" font-size="66" fill="#000000" stroke="#fff" stroke-width="1.6">×</text><text transform="matrix(0.9948 0 0 1.0414 1399.7342 577.9793)" font-size="60" fill="#000000">10</text><text transform="matrix(1.1881 0 0 1.0416 1465.9209 560.5396)" font-size="36" fill="#000000">6</text>
<text transform="matrix(0.9964 0 0 0.9962 1097.8108 736.5925)" font-size="60" fill="#000000" font-style="italic">Q</text><text transform="matrix(1.0759 0 0 0.9259 1142.9103 763.0685)" font-size="37" fill="#000000">int</text> <text transform="matrix(1.2034 0 0 0.9846 1198.8897 742.5462)" font-size="60" fill="#000000">=</text> <text transform="matrix(0.9892 0 0 1.0296 1254.7797 740.4852)" font-size="60" fill="#000000">9.27</text><text transform="matrix(1.2667 0 0 1.2704 1365.4167 751.3981)" font-size="66" fill="#000000" stroke="#fff" stroke-width="1.6">×</text><text transform="matrix(1.0501 0 0 1.0296 1408.9694 740.4852)" font-size="60" fill="#000000">10</text><text transform="matrix(1.1403 0 0 1.002 1477.9045 722.7495)" font-size="36" fill="#000000">6</text>
<text transform="matrix(0.8102 0 0 0.9636 1806.839 139.4591)" font-size="105" fill="#000000" stroke="#000" stroke-width="1.1">(</text><text transform="matrix(1.1254 0 0 1.076 1839.1663 146.5859)" font-size="105" fill="#000000" stroke="#000" stroke-width="1.1">b</text><text transform="matrix(0.8237 0 0 0.9636 1906.1119 139.4591)" font-size="105" fill="#000000" stroke="#000" stroke-width="1.1">)</text>
<text transform="matrix(0.9816 0 0 1.0204 1986.5213 133)" font-size="60" fill="#4b4c4e">12</text>
<text transform="matrix(1 0 0 1.0438 1985.9 329.3181)" font-size="60" fill="#4b4c4e">10</text>
<text transform="matrix(1.0195 0 0 1.0438 2019.1513 525.3581)" font-size="60" fill="#4b4c4e">8</text>
<text transform="matrix(1.0378 0 0 1.0438 2018.5865 721.3981)" font-size="60" fill="#4b4c4e">6</text>
<text transform="matrix(0.96 0 0 1.0255 2020.26 917.16)" font-size="60" fill="#4b4c4e">4</text>
<text transform="matrix(1.0569 0 0 1.0371 2018.5294 1113.2)" font-size="60" fill="#4b4c4e">2</text>
<text transform="matrix(1.2118 0 0 1.2118 2081.1235 102.6088)" font-size="66" fill="#4b4c4e" stroke="#fff" stroke-width="2.6">×</text><text transform="matrix(0.9948 0 0 1.0343 2132.5342 91.9828)" font-size="60" fill="#4b4c4e">10</text><text transform="matrix(1.0871 0 0 1.0308 2204.8541 61.0846)" font-size="46" fill="#4b4c4e">6</text>
<text transform="matrix(0.9956 0 0 1.0509 2006.229 1176.4746)" font-size="60" fill="#4b4c4e">1534</text>
<text transform="matrix(1.0036 0 0 1.0509 2226.5261 1176.4746)" font-size="60" fill="#4b4c4e">1536</text>
<text transform="matrix(1.0016 0 0 1.0509 2446.8894 1176.4746)" font-size="60" fill="#4b4c4e">1538</text>
<text transform="matrix(0.9996 0 0 1.0509 2667.2526 1176.4746)" font-size="60" fill="#4b4c4e">1540</text>
<text transform="matrix(1.0056 0 0 1.0509 2887.5627 1176.4746)" font-size="60" fill="#4b4c4e">1542</text>
<text transform="matrix(0.9956 0 0 1.0635 3107.979 1176.4683)" font-size="60" fill="#4b4c4e">1544</text>
<text transform="matrix(1.0036 0 0 1.0509 3328.2761 1176.4746)" font-size="60" fill="#4b4c4e">1546</text>
<text transform="matrix(0.9909 0 0 1.0015 2599.0751 1281.6412)" font-size="71" fill="#4b4c4e">波长</text> <text transform="matrix(0.84 0 0 0.9512 2757.94 1275.9207)" font-size="66" fill="#4b4c4e">(</text><text transform="matrix(1.0924 0 0 1.0141 2776.984 1279.9)" font-size="66" fill="#4b4c4e">nm</text><text transform="matrix(0.84 0 0 0.9512 2877.08 1275.9207)" font-size="66" fill="#4b4c4e">)</text>
<text transform="matrix(0 -1.0093 0.9738 0 1959.2004 741.7557)" font-size="71" fill="#4b4c4e">品质因子</text>
<text transform="matrix(1.0081 0 0 0.9188 3256.5797 203.3828)" font-size="54" fill="#000000">Q</text><text transform="matrix(0.9026 0 0 1.0545 3301.641 234.9)" font-size="44" fill="#000000">L</text>
<text transform="matrix(1.0081 0 0 0.9188 3256.5797 300.3828)" font-size="54" fill="#000000">Q</text><text transform="matrix(0.9521 0 0 0.9594 3300.4437 331.0602)" font-size="44" fill="#000000" letter-spacing="5">int</text>
</svg></body></html>
